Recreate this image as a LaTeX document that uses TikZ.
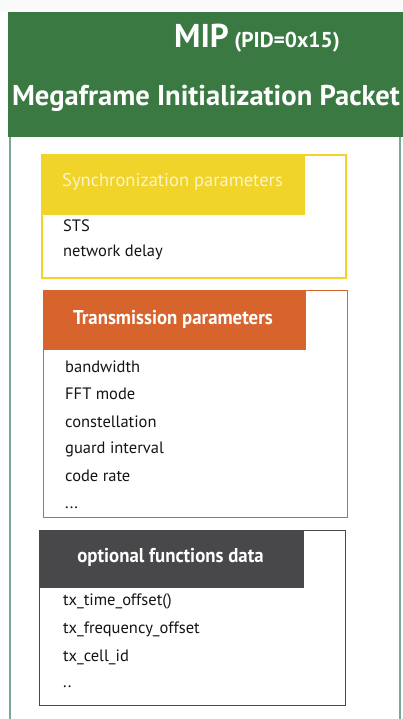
\documentclass[tikz,border=0pt]{standalone}
\usepackage{fontspec}
\setmainfont{PT Sans}
\newfontfamily\titlefont{PT Sans Bold}
\newfontfamily\hdrbold{PT Sans Bold}[FakeStretch=0.94]
\newfontfamily\hdrreg{PT Sans}
\newfontfamily\itemfont{PT Sans}
\definecolor{mipgreen}{RGB}{58,122,66}
\definecolor{panelline}{RGB}{120,168,150}
\definecolor{syncyellow}{RGB}{240,212,42}
\definecolor{synctext}{RGB}{250,244,200}
\definecolor{txorange}{RGB}{214,100,44}
\definecolor{optgray}{RGB}{72,72,74}
\definecolor{itemtext}{RGB}{20,20,20}
\tikzset{
  hdr/.style={anchor=center, text=white, font=\hdrbold\fontsize{20}{22}\selectfont, inner sep=0pt},
  itm/.style={anchor=base west, text=itemtext, font=\itemfont\fontsize{16.5}{18}\selectfont, inner sep=0pt},
}
\begin{document}
\begin{tikzpicture}[x=1pt,y=-1pt]
\useasboundingbox (0,0) rectangle (403,719);
\fill[white!96!gray] (0,0) rectangle (403,12);
% green title band
\fill[mipgreen] (8,12) rectangle (403,137);
\node[text=white, anchor=base, inner sep=0pt] (mip) at (257,48)
  {\titlefont\fontsize{33}{35}\selectfont MIP\,\fontsize{21.5}{23}\selectfont (PID=0x15)};
\node[text=white, anchor=base, inner sep=0pt] (mfip) at (206,106)
  {\titlefont\fontsize{28.6}{30}\selectfont Megaframe Initialization Packet};
% outer panel
\draw[panelline, line width=1.2pt] (10,137) -- (10,719);
\draw[panelline, line width=1.2pt] (400,137) -- (400,719);
% box 1: sync
\fill[syncyellow] (42,155) rectangle (305,215);
\draw[syncyellow, line width=1.3pt] (42,155) rectangle (346,278);
\node[hdr, text=synctext, font=\hdrreg\fontsize{18.5}{20}\selectfont] (synch) at (172.5,182) {Synchronization parameters};
\node[itm] (sts) at (63,231) {STS};
\node[itm] (nd) at (63,256) {network delay};
% box 2: transmission
\fill[txorange] (43,290) rectangle (306,350);
\draw[txorange, line width=1pt] (43,290) rectangle (347,517);
\node[hdr] (txh) at (173,319) {Transmission parameters};
\node[itm] (bw) at (65,372) {bandwidth};
\node[itm] (fft) at (65,399) {FFT mode};
\node[itm] (con) at (65,427) {constellation};
\node[itm] (gi) at (65,453) {guard interval};
\node[itm] (cr) at (65,481) {code rate};
\node[itm] (dots1) at (65,508) {...};
% box 3: optional
\fill[optgray] (39,530) rectangle (304,588);
\draw[optgray, line width=1pt] (39,530) rectangle (345,705);
\node[hdr] (opth) at (170.5,557) {optional functions data};
\node[itm] (tto) at (63,605) {tx\_time\_offset()};
\node[itm] (tfo) at (63,633) {tx\_frequency\_offset};
\node[itm] (tci) at (63,661) {tx\_cell\_id};
\node[itm] (dots2) at (63,687) {..};
\end{tikzpicture}
\end{document}
